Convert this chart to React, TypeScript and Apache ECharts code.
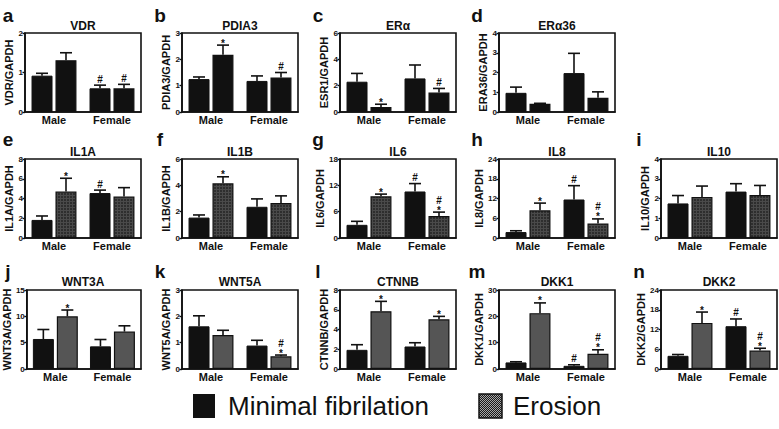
import React, { useEffect, useRef } from 'react';
import * as echarts from 'echarts';

const categories = ['Male', 'Female'];
const seriesNames = ['Minimal fibrilation', 'Erosion'];

// values ordered [Male·Minimal, Male·Erosion, Female·Minimal, Female·Erosion]
const vdrMean = [0.92, 1.31, 0.6, 0.6];
const vdrSem = [0.06, 0.19, 0.08, 0.1];
const vdrSig = ['', '', '#', '#'];

const pdia3Mean = [1.25, 2.17, 1.18, 1.31];
const pdia3Sem = [0.08, 0.37, 0.19, 0.19];
const pdia3Sig = ['', '*', '', '#'];

const eraMean = [2.3, 0.38, 2.55, 1.48];
const eraSem = [0.63, 0.21, 1.02, 0.31];
const eraSig = ['', '*', '', '#'];

const era36Mean = [0.97, 0.42, 1.97, 0.72];
const era36Sem = [0.29, 0.02, 1.0, 0.3];
const era36Sig = ['', '', '', ''];

const il1aMean = [1.83, 4.7, 4.55, 4.2];
const il1aSem = [0.4, 1.35, 0.3, 0.9];
const il1aSig = ['', '*', '#', ''];

const il1bMean = [1.55, 4.15, 2.37, 2.65];
const il1bSem = [0.2, 0.5, 0.6, 0.55];
const il1bSig = ['', '*', '', ''];

const il6Mean = [3.0, 9.5, 10.6, 5.0];
const il6Sem = [0.8, 0.5, 1.8, 0.9];
const il6Sig = ['', '*', '#', '#*'];

const il8Mean = [1.8, 8.4, 11.7, 4.4];
const il8Sem = [0.4, 2.2, 4.2, 1.4];
const il8Sig = ['', '*', '#', '#*'];

const il10Mean = [1.75, 2.08, 2.35, 2.18];
const il10Sem = [0.4, 0.55, 0.4, 0.48];
const il10Sig = ['', '', '', ''];

const wnt3aMean = [5.7, 10.0, 4.3, 7.1];
const wnt3aSem = [1.8, 1.2, 1.3, 1.1];
const wnt3aSig = ['', '*', '', ''];

const wnt5aMean = [1.62, 1.29, 0.89, 0.48];
const wnt5aSem = [0.4, 0.18, 0.2, 0.05];
const wnt5aSig = ['', '', '', '#*'];

const ctnnbMean = [1.94, 5.85, 2.28, 5.03];
const ctnnbSem = [0.52, 1.0, 0.38, 0.3];
const ctnnbSig = ['', '*', '', '*'];

const dkk1Mean = [2.5, 21.2, 1.2, 5.8];
const dkk1Sem = [0.25, 3.9, 0.4, 1.5];
const dkk1Sig = ['', '*', '#', '#*'];

const dkk2Mean = [4.0, 14.0, 13.0, 5.6];
const dkk2Sem = [0.4, 3.3, 2.2, 0.7];
const dkk2Sig = ['', '*', '#', '#*'];

const panelLetters = ['a', 'b', 'c', 'd', 'e', 'f', 'g', 'h', 'i', 'j', 'k', 'l', 'm', 'n'];
const panelTitles = ['VDR', 'PDIA3', 'ERα', 'ERα36', 'IL1A', 'IL1B', 'IL6', 'IL8', 'IL10', 'WNT3A', 'WNT5A', 'CTNNB', 'DKK1', 'DKK2'];
const yAxisNames = ['VDR/GAPDH', 'PDIA3/GAPDH', 'ESR1/GAPDH', 'ERA36/GAPDH', 'IL1A/GAPDH', 'IL1B/GAPDH', 'IL6/GAPDH', 'IL8/GAPDH', 'IL10/GAPDH', 'WNT3A/GAPDH', 'WNT5A/GAPDH', 'CTNNB/GAPDH', 'DKK1/GAPDH', 'DKK2/GAPDH'];
const yMaxes = [2, 3, 6, 4, 8, 6, 18, 24, 4, 15, 3, 8, 30, 24];
const yIntervals = [1, 1, 2, 1, 2, 2, 6, 6, 1, 5, 1, 2, 10, 6];
const means = [vdrMean, pdia3Mean, eraMean, era36Mean, il1aMean, il1bMean, il6Mean, il8Mean, il10Mean, wnt3aMean, wnt5aMean, ctnnbMean, dkk1Mean, dkk2Mean];
const sems = [vdrSem, pdia3Sem, eraSem, era36Sem, il1aSem, il1bSem, il6Sem, il8Sem, il10Sem, wnt3aSem, wnt5aSem, ctnnbSem, dkk1Sem, dkk2Sem];
const sigs = [vdrSig, pdia3Sig, eraSig, era36Sig, il1aSig, il1bSig, il6Sig, il8Sig, il10Sig, wnt3aSig, wnt5aSig, ctnnbSig, dkk1Sig, dkk2Sig];

// ---------- layout / style ----------
const W = 779;
const H = 429;
const INK = '#111111';
const FONT = '"Liberation Sans", Arial, sans-serif';
const COL_X = [25, 182, 340, 499, 661];
const ROW_Y = [33, 159, 290];
const PLOT_W = 116;
const PLOT_H = 79;
const BAR_W = 21;
const HALF = 12;
const CAP = 6;

function svgPattern(w: number, h: number, body: string) {
  return 'data:image/svg+xml;charset=utf-8,' + encodeURIComponent(
    `<svg xmlns="http://www.w3.org/2000/svg" width="${w}" height="${h}">${body}</svg>`
  );
}

const gridPattern = {
  image: svgPattern(3, 3, '<rect width="3" height="3" fill="#2e2e2e"/><rect width="3" height="1" fill="#4a4a4a"/><rect width="1" height="3" fill="#4a4a4a"/>'),
  repeat: 'repeat',
  imageWidth: 3,
  imageHeight: 3,
};
const checkerPattern = {
  image: svgPattern(2, 2, '<rect width="2" height="2" fill="#1a1a1a"/><rect width="1" height="1" fill="#a8a8a8"/><rect x="1" y="1" width="1" height="1" fill="#a8a8a8"/>'),
  repeat: 'repeat',
  imageWidth: 2,
  imageHeight: 2,
};

function panelPos(i: number) {
  if (i < 4) return { row: 0, col: i };
  const j = i - 4;
  return { row: 1 + Math.floor(j / 5), col: j % 5 };
}

function makeRender(sig: string[]) {
  return (params: any, api: any) => {
    const k = params.dataIndex;
    const cat = api.value(0);
    const m = api.value(1);
    const e = api.value(2);
    const side = k % 2 === 0 ? -1 : 1;
    const p0 = api.coord([cat, m]);
    const p1 = api.coord([cat, m + e]);
    const x = p0[0] + side * HALF;
    const children: any[] = [
      { type: 'line', shape: { x1: x, y1: p0[1], x2: x, y2: p1[1] }, style: { stroke: INK, lineWidth: 1.6 } },
      { type: 'line', shape: { x1: x - CAP, y1: p1[1], x2: x + CAP, y2: p1[1] }, style: { stroke: INK, lineWidth: 1.6 } },
    ];
    const marks = (sig[k] || '').split('').reverse();
    let cur = p1[1];
    marks.forEach((ch) => {
      const y = ch === '*' ? cur - 2 : cur - 6;
      children.push({
        type: 'text',
        style: { text: ch, x, y, align: 'center', verticalAlign: 'middle', font: `bold 10px ${FONT}`, fill: INK },
      });
      cur -= ch === '*' ? 6 : 10;
    });
    return { type: 'group', children };
  };
}

function buildOption() {
  const grid: any[] = [];
  const xAxis: any[] = [];
  const yAxis: any[] = [];
  const series: any[] = [];
  const graphic: any[] = [];
  const erosionFill = [INK, gridPattern, '#555555'];

  means.forEach((mean, i) => {
    const { row, col } = panelPos(i);
    const left = COL_X[col];
    const top = ROW_Y[row];
    grid.push({ left, top, width: PLOT_W, height: PLOT_H, show: true, borderColor: INK, borderWidth: 1.6, backgroundColor: 'transparent' });
    xAxis.push({
      gridIndex: i,
      type: 'category',
      data: categories,
      axisTick: { show: false },
      axisLine: { show: true, lineStyle: { color: INK, width: 1.6 } },
      axisLabel: { color: INK, fontWeight: 'bold', fontSize: 11, fontFamily: FONT, margin: 2 },
    });
    yAxis.push({
      gridIndex: i,
      type: 'value',
      min: 0,
      max: yMaxes[i],
      interval: yIntervals[i],
      name: yAxisNames[i],
      nameLocation: 'middle',
      nameRotate: 90,
      nameGap: 11,
      nameTextStyle: { color: INK, fontWeight: 'bold', fontSize: 11, fontFamily: FONT },
      axisLine: { show: true, lineStyle: { color: INK, width: 1.6 } },
      axisTick: { show: true, length: 2.5, lineStyle: { color: INK, width: 1.4 } },
      axisLabel: { color: INK, fontWeight: 'bold', fontSize: 8, fontFamily: FONT, margin: 2 },
      splitLine: { show: false },
    });
    series.push({
      type: 'bar',
      name: seriesNames[0],
      xAxisIndex: i,
      yAxisIndex: i,
      data: [mean[0], mean[2]],
      barWidth: BAR_W,
      barGap: '14%',
      itemStyle: { color: INK, borderColor: INK, borderWidth: 1 },
    });
    series.push({
      type: 'bar',
      name: seriesNames[1],
      xAxisIndex: i,
      yAxisIndex: i,
      data: [mean[1], mean[3]],
      barWidth: BAR_W,
      barGap: '14%',
      itemStyle: { color: erosionFill[row], borderColor: INK, borderWidth: 1.2 },
    });
    series.push({
      type: 'custom',
      xAxisIndex: i,
      yAxisIndex: i,
      z: 5,
      data: mean.map((m, k) => [k >> 1, m, sems[i][k]]),
      renderItem: makeRender(sigs[i]),
    });
    const lx = col === 0 ? 8 : left - 22;
    const ly = [15, 139, 271][row];
    graphic.push({
      type: 'text',
      style: { text: panelLetters[i], x: lx, y: ly, align: 'center', verticalAlign: 'middle', font: `bold 19px ${FONT}`, fill: INK },
    });
    graphic.push({
      type: 'text',
      style: { text: panelTitles[i], x: left + PLOT_W / 2, y: [25.5, 152, 282][row], align: 'center', verticalAlign: 'middle', font: `bold 12px ${FONT}`, fill: INK },
    });
  });

  // legend
  graphic.push({ type: 'rect', shape: { x: 193, y: 394, width: 22, height: 24 }, style: { fill: INK } });
  graphic.push({ type: 'text', style: { text: seriesNames[0], x: 228, y: 406, align: 'left', verticalAlign: 'middle', font: `26px ${FONT}`, fill: INK } });
  graphic.push({ type: 'rect', shape: { x: 479, y: 394, width: 23, height: 24 }, style: { fill: checkerPattern, stroke: INK, lineWidth: 1.5 } });
  graphic.push({ type: 'text', style: { text: seriesNames[1], x: 513, y: 406, align: 'left', verticalAlign: 'middle', font: `26px ${FONT}`, fill: INK } });

  return {
    animation: false,
    backgroundColor: '#ffffff',
    grid,
    xAxis,
    yAxis,
    series,
    graphic,
  };
}

export default function App() {
  const ref = useRef<HTMLDivElement>(null);
  useEffect(() => {
    if (!ref.current) return;
    const chart = echarts.init(ref.current, null, { renderer: 'svg' });
    chart.setOption(buildOption() as any);
    return () => chart.dispose();
  }, []);
  return <div ref={ref} style={{ position: 'fixed', left: 0, top: 0, width: W, height: H }} />;
}
